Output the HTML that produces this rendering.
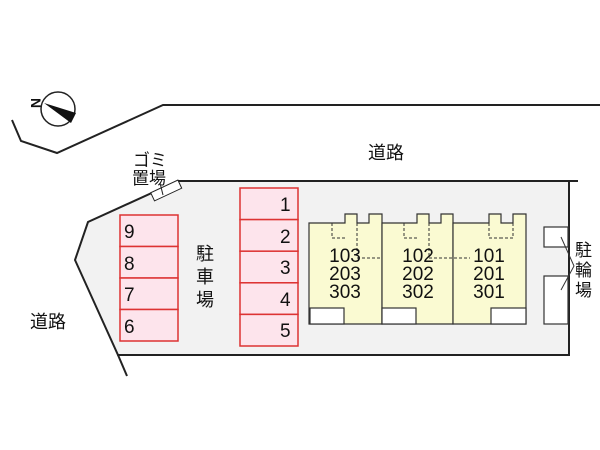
<!DOCTYPE html><html><head><style>body{margin:0;background:#fff}svg{display:block}text{font-family:"Liberation Sans","Noto Sans CJK JP",sans-serif;fill:#111}</style></head><body>
<svg width="600" height="450" viewBox="0 0 600 450">
<polyline points="12,120 21,141 57,153 163,105 600,105" fill="none" stroke="#222" stroke-width="2"/>
<circle cx="58" cy="109" r="17" fill="#fff" stroke="#222" stroke-width="1.5"/>
<polygon points="44,103 76,113 71,123" fill="#111"/>
<text x="31" y="108" font-size="14" font-weight="bold" transform="rotate(90 36 103)">N</text>
<polygon points="178,181 569,181 569,355 118,355 75,260 88,222" fill="#f2f2f2" stroke="#222" stroke-width="2"/>
<line x1="569" y1="181" x2="578" y2="181" stroke="#222" stroke-width="2"/>
<line x1="118" y1="355" x2="127" y2="376" stroke="#222" stroke-width="2"/>
<rect x="151" y="186" width="30" height="9" fill="#fff" stroke="#222" transform="rotate(-25 166 190)"/>
<line x1="160" y1="183" x2="163" y2="195" stroke="#222"/>
<text x="133" y="166" font-size="17">ゴミ</text><text x="132" y="184" font-size="17">置場</text>
<text x="368" y="159" font-size="18">道路</text>
<text x="30" y="328" font-size="18">道路</text>
<g fill="#fde4ec" stroke="#d33" stroke-width="1.5">
<rect x="120" y="215" width="58" height="31.5"/><rect x="120" y="246.5" width="58" height="31.5"/><rect x="120" y="278" width="58" height="31.5"/><rect x="120" y="309.5" width="58" height="31.5"/>
<rect x="240" y="188" width="58" height="31.6"/><rect x="240" y="219.6" width="58" height="31.6"/><rect x="240" y="251.2" width="58" height="31.6"/><rect x="240" y="282.8" width="58" height="31.6"/><rect x="240" y="314.4" width="58" height="31.6"/>
</g>
<g font-size="19"><text x="124" y="238">9</text><text x="124" y="270">8</text><text x="124" y="301">7</text><text x="124" y="333">6</text>
<text x="280" y="211">1</text><text x="280" y="243">2</text><text x="280" y="274">3</text><text x="280" y="306">4</text><text x="280" y="337">5</text></g>
<text x="196" y="260" font-size="18">駐</text><text x="196" y="283" font-size="18">車</text><text x="196" y="306" font-size="18">場</text>
<g fill="#fafad2" stroke="#333" stroke-width="1.2">
<path d="M309,223 H345 V214 H357 V223 H369 V214 H382 V324 H309 Z"/>
<path d="M382,223 H417 V214 H429 V223 H441 V214 H453 V324 H382 Z"/>
<path d="M453,223 H489 V214 H501 V223 H513 V214 H526 V324 H453 Z"/>
</g>
<g fill="none" stroke="#333" stroke-dasharray="3,2"><path d="M332,223 V238 H345 M357,223 V258 H381 M404,223 V238 H417 M429,223 V258 H470 M489,223 V238 H501 M513,223 V238 H500"/></g>
<g fill="#fff" stroke="#333" stroke-width="1.2"><rect x="310" y="308" width="34" height="16"/><rect x="382" y="308" width="34" height="16"/><rect x="491" y="308" width="35" height="16"/>
<rect x="544" y="227" width="24" height="20"/><rect x="544" y="276" width="24" height="48"/></g>
<polyline points="561,237 574,266 561,290" fill="none" stroke="#333"/>
<g font-size="19" text-anchor="middle"><text x="345" y="262">103</text><text x="345" y="280">203</text><text x="345" y="298">303</text>
<text x="418" y="262">102</text><text x="418" y="280">202</text><text x="418" y="298">302</text>
<text x="489" y="262">101</text><text x="489" y="280">201</text><text x="489" y="298">301</text></g>
<text x="575" y="256" font-size="17">駐</text><text x="575" y="276" font-size="17">輪</text><text x="575" y="296" font-size="17">場</text>
</svg></body></html>
